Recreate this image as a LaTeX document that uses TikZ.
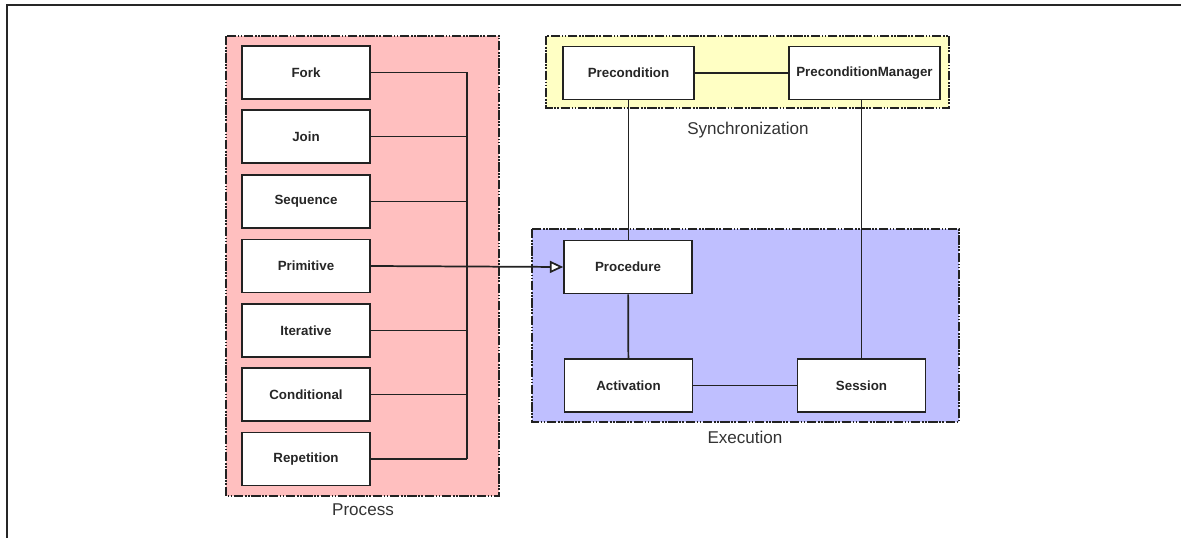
\documentclass[tikz,border=0pt]{standalone}
\usepackage{fontspec}
\setmainfont{Liberation Sans}
\usetikzlibrary{arrows.meta}
\definecolor{procfill}{HTML}{FFBFBF}
\definecolor{syncfill}{HTML}{FFFFC4}
\definecolor{execfill}{HTML}{BFBFFF}
\definecolor{edge}{HTML}{222222}
\begin{document}
\begin{tikzpicture}[x=0.75pt,y=-0.75pt,
  package/.style={draw=edge, line width=1.1pt,
    dash pattern=on 7pt off 1.2pt on 1.2pt off 1.2pt on 1.2pt off 1.2pt},
  cls/.style={draw=edge, fill=white, line width=1.2pt, inner sep=0pt, text=black!85,
    minimum width=96pt, minimum height=40pt, font=\fontsize{10}{12}\selectfont\bfseries},
  pkglabel/.style={font=\fontsize{12.8}{15}\selectfont, text=black!80},
  link/.style={draw=edge, line width=1.3pt}]
\useasboundingbox (0,0) rectangle (1181,538);
% frame edges
\draw[line width=1.5pt, black!85] (6.5,538) -- (6.5,5.5) -- (1181,5.5);

% packages
\draw[package, fill=procfill] (226,36) rectangle (499,496);
\draw[package, fill=syncfill] (546,36) rectangle (949,108);
\draw[package, fill=execfill] (532,229) rectangle (959,422);
\node[pkglabel] (lproc) at (363,510) {Process};
\node[pkglabel] (lsync) at (748,130) {Synchronization};
\node[pkglabel] (lexec) at (745,437) {Execution};

% process classes
\node[cls] (fork) at (306,72.5) {Fork};
\node[cls] (join) at (306,136.5) {Join};
\node[cls] (seq) at (306,201.5) {Sequence};
\node[cls] (prim) at (306,266) {Primitive};
\node[cls] (iter) at (306,330.5) {Iterative};
\node[cls] (cond) at (306,394.5) {Conditional};
\node[cls] (rep) at (306,459) {Repetition};

% synchronization classes
\node[cls, minimum width=98pt] (pre) at (628.5,73) {Precondition};
\node[cls, minimum width=113pt] (prem) at (864.5,73) {PreconditionManager};

% execution classes
\node[cls] (proc) at (628,267) {Procedure};
\node[cls] (act) at (628.5,385.5) {Activation};
\node[cls] (sess) at (861.5,385.5) {Session};

% bus joining the process classes
\coordinate (bustop) at (467,72.5);
\coordinate (busbot) at (467,459);
\draw[link] (bustop) -- (busbot);
\foreach \n in {fork,join,seq,iter,cond,rep}
  \draw[link] (\n.east) -- (\n.east -| bustop);
\draw[link, -{Triangle[open, fill=white, length=10pt, width=9pt]}] (prim.east) -- (proc.west);

% associations
\draw[link] (pre) -- (prem);
\draw[link] (pre.south) -- (pre.south |- proc.north);
\draw[link] (proc) -- (act);
\draw[link] (act) -- (sess);
\draw[link] (prem.south -| sess.north) -- (sess.north);
\end{tikzpicture}
\end{document}
